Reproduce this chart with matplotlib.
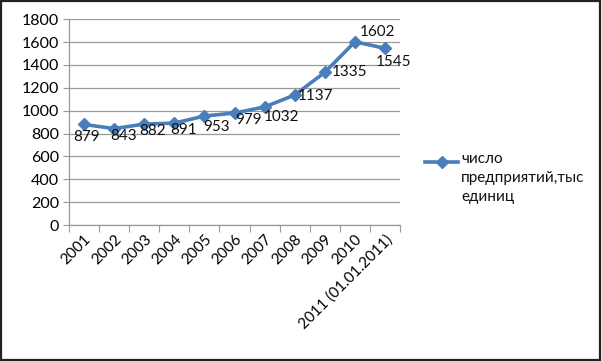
import matplotlib
matplotlib.use('Agg')
import matplotlib.pyplot as plt
from matplotlib.lines import Line2D
from matplotlib.patches import Rectangle

plt.rcParams['font.family'] = ['Lato', 'DejaVu Sans']
plt.rcParams['font.size'] = 11

# data
years = ['2001', '2002', '2003', '2004', '2005', '2006', '2007', '2008',
         '2009', '2010', '2011 (01.01.2011)']
values = [879, 843, 882, 891, 953, 979, 1032, 1137, 1335, 1602, 1545]
series_name = 'число\nпредприятий,тыс\nединиц'

# label offsets in points (dx, dy) - just placement
label_off = [(2, -9), (7, -5), (6, -5), (7, -5), (9, -8), (10, -5), (12, -7),
             (15, -1), (18, 0), (16, 7), (6, -10)]

blue = '#4A7EBB'

fig = plt.figure(figsize=(6.02, 3.61), dpi=100)
ax = fig.add_axes([0.1146, 0.3767, 0.55, 0.5703])

x = list(range(len(years)))
ax.plot(x, values, color=blue, lw=2.6, marker='D', markersize=6.5,
        markerfacecolor=blue, markeredgecolor=blue, zorder=3)

for xi, v, (dx, dy) in zip(x, values, label_off):
    ax.annotate(str(v), (xi, v), xytext=(dx, dy), textcoords='offset points',
                ha='center', va='center', fontsize=11, color='#111111')

ax.set_ylim(0, 1800)
ax.set_yticks(range(0, 1801, 200))
ax.set_xlim(-0.5, len(years) - 0.5)
ax.grid(axis='y', color='#999999', lw=0.9)
ax.set_axisbelow(True)

# category ticks at boundaries, labels at centers
ax.set_xticks([i - 0.5 for i in range(len(years) + 1)])
ax.set_xticklabels([])
ax.set_xticks(x, minor=True)
ax.set_xticklabels(years, minor=True, rotation=45, ha='right', va='top',
                   rotation_mode='anchor', fontsize=11)
ax.tick_params(axis='x', which='major', length=5, color='#999999', direction='out')
ax.tick_params(axis='x', which='minor', length=0, pad=5)
ax.tick_params(axis='y', length=4, color='#999999', pad=3, labelsize=11.5)

for s in ['top', 'right']:
    ax.spines[s].set_visible(False)
for s in ['left', 'bottom']:
    ax.spines[s].set_color('#999999')
    ax.spines[s].set_linewidth(0.9)

# legend drawn by hand so the marker lines up with the first text line
fig.add_artist(Line2D([425 / 602, 458 / 602], [1 - 162 / 361, 1 - 162 / 361],
                      transform=fig.transFigure, color=blue, lw=2.6, zorder=3))
fig.add_artist(Line2D([441.5 / 602], [1 - 162 / 361], transform=fig.transFigure,
                      color=blue, marker='D', markersize=6.5, lw=0))
fig.text(461 / 602, 1 - 152 / 361, series_name, ha='left', va='top',
         fontsize=11, linespacing=1.45, color='#111111')

# outer frame
fig.patches.append(Rectangle((0.002, 0.003), 0.994, 0.993, transform=fig.transFigure,
                             fill=False, edgecolor='#222222', lw=1.6))

fig.savefig('out.png', dpi=100)
